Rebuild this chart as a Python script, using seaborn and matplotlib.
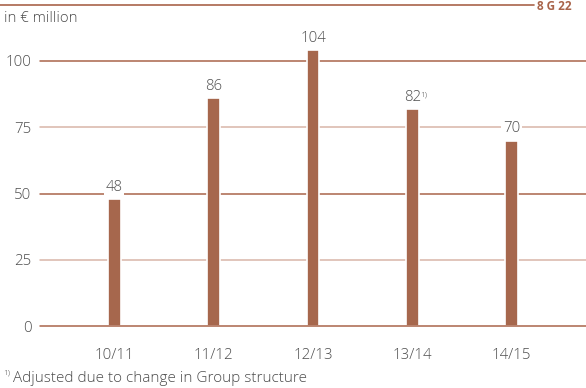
import matplotlib
matplotlib.use("Agg")
import matplotlib.pyplot as plt
import seaborn as sns

periods = ["10/11", "11/12", "12/13", "13/14", "14/15"]
amounts = [48, 86, 104, 82, 70]
footnoted = [False, False, False, True, False]
y_ticks = [0, 25, 50, 75, 100]
dark_ticks = [0, 50, 100]

BAR = "#a6674d"
DARK_LINE = "#a9644a"
LIGHT_LINE = "#d8b5a8"
TEXT = "#4d4d4d"
FS = 10.8

sns.set_theme(style="white")
plt.rcParams["font.family"] = ["Open Sans", "DejaVu Sans"]
plt.rcParams["font.weight"] = "light"

W, H = 586, 388
fig = plt.figure(figsize=(W / 100, H / 100), dpi=100)
ax = fig.add_axes([40 / W, (H - 326) / H, 546 / W, 291.5 / H])

for t in y_ticks:
    ax.axhline(t, color=DARK_LINE if t in dark_ticks else LIGHT_LINE,
               lw=1.1, zorder=5 if t == 0 else 1, clip_on=False)

sns.barplot(x=periods, y=amounts, width=0.13, color=BAR, saturation=1,
            edgecolor="white", linewidth=1.2, ax=ax, zorder=3)

ax.set_xlim(-0.75, 4.75)
ax.set_ylim(0, 110)
ax.set_yticks(y_ticks)
ax.set_yticklabels([str(t) for t in y_ticks])
ax.tick_params(axis="both", length=0, labelsize=FS, labelcolor=TEXT)
ax.tick_params(axis="y", pad=6)
ax.tick_params(axis="x", pad=16)
ax.set_xlabel("")
ax.set_ylabel("")
for s in ax.spines.values():
    s.set_visible(False)

for i, (v, fn) in enumerate(zip(amounts, footnoted)):
    ax.annotate(str(v), (i, v), xytext=(0, 3), textcoords="offset points",
                ha="center", va="bottom", fontsize=FS, color=TEXT, zorder=4,
                bbox=dict(boxstyle="square,pad=0.1", fc="white", ec="none"))
    if fn:
        ax.annotate("1)", (i, v), xytext=(5.5, 7.5), textcoords="offset points",
                    ha="left", va="bottom", fontsize=6, color=TEXT, zorder=4)

# header rule and chart reference
fig.add_artist(plt.Line2D([0, 534 / W], [1 - 4.5 / H, 1 - 4.5 / H],
                          color=DARK_LINE, lw=1.2))
fig.text(537 / W, 1 - 10 / H, "8 G 22", color=DARK_LINE, fontsize=8.5,
         fontweight="bold", ha="left", va="baseline")
fig.text(4 / W, 1 - 19 / H, "in € million", color=TEXT, fontsize=FS,
         ha="left", va="center")

fig.text(3 / W, 1 - 373 / H, "1)", color=TEXT, fontsize=6,
         ha="left", va="center")
fig.text(13 / W, 1 - 378 / H, "Adjusted due to change in Group structure",
         color=TEXT, fontsize=11, ha="left", va="center")

fig.savefig("out.png", dpi=100, facecolor="white")
